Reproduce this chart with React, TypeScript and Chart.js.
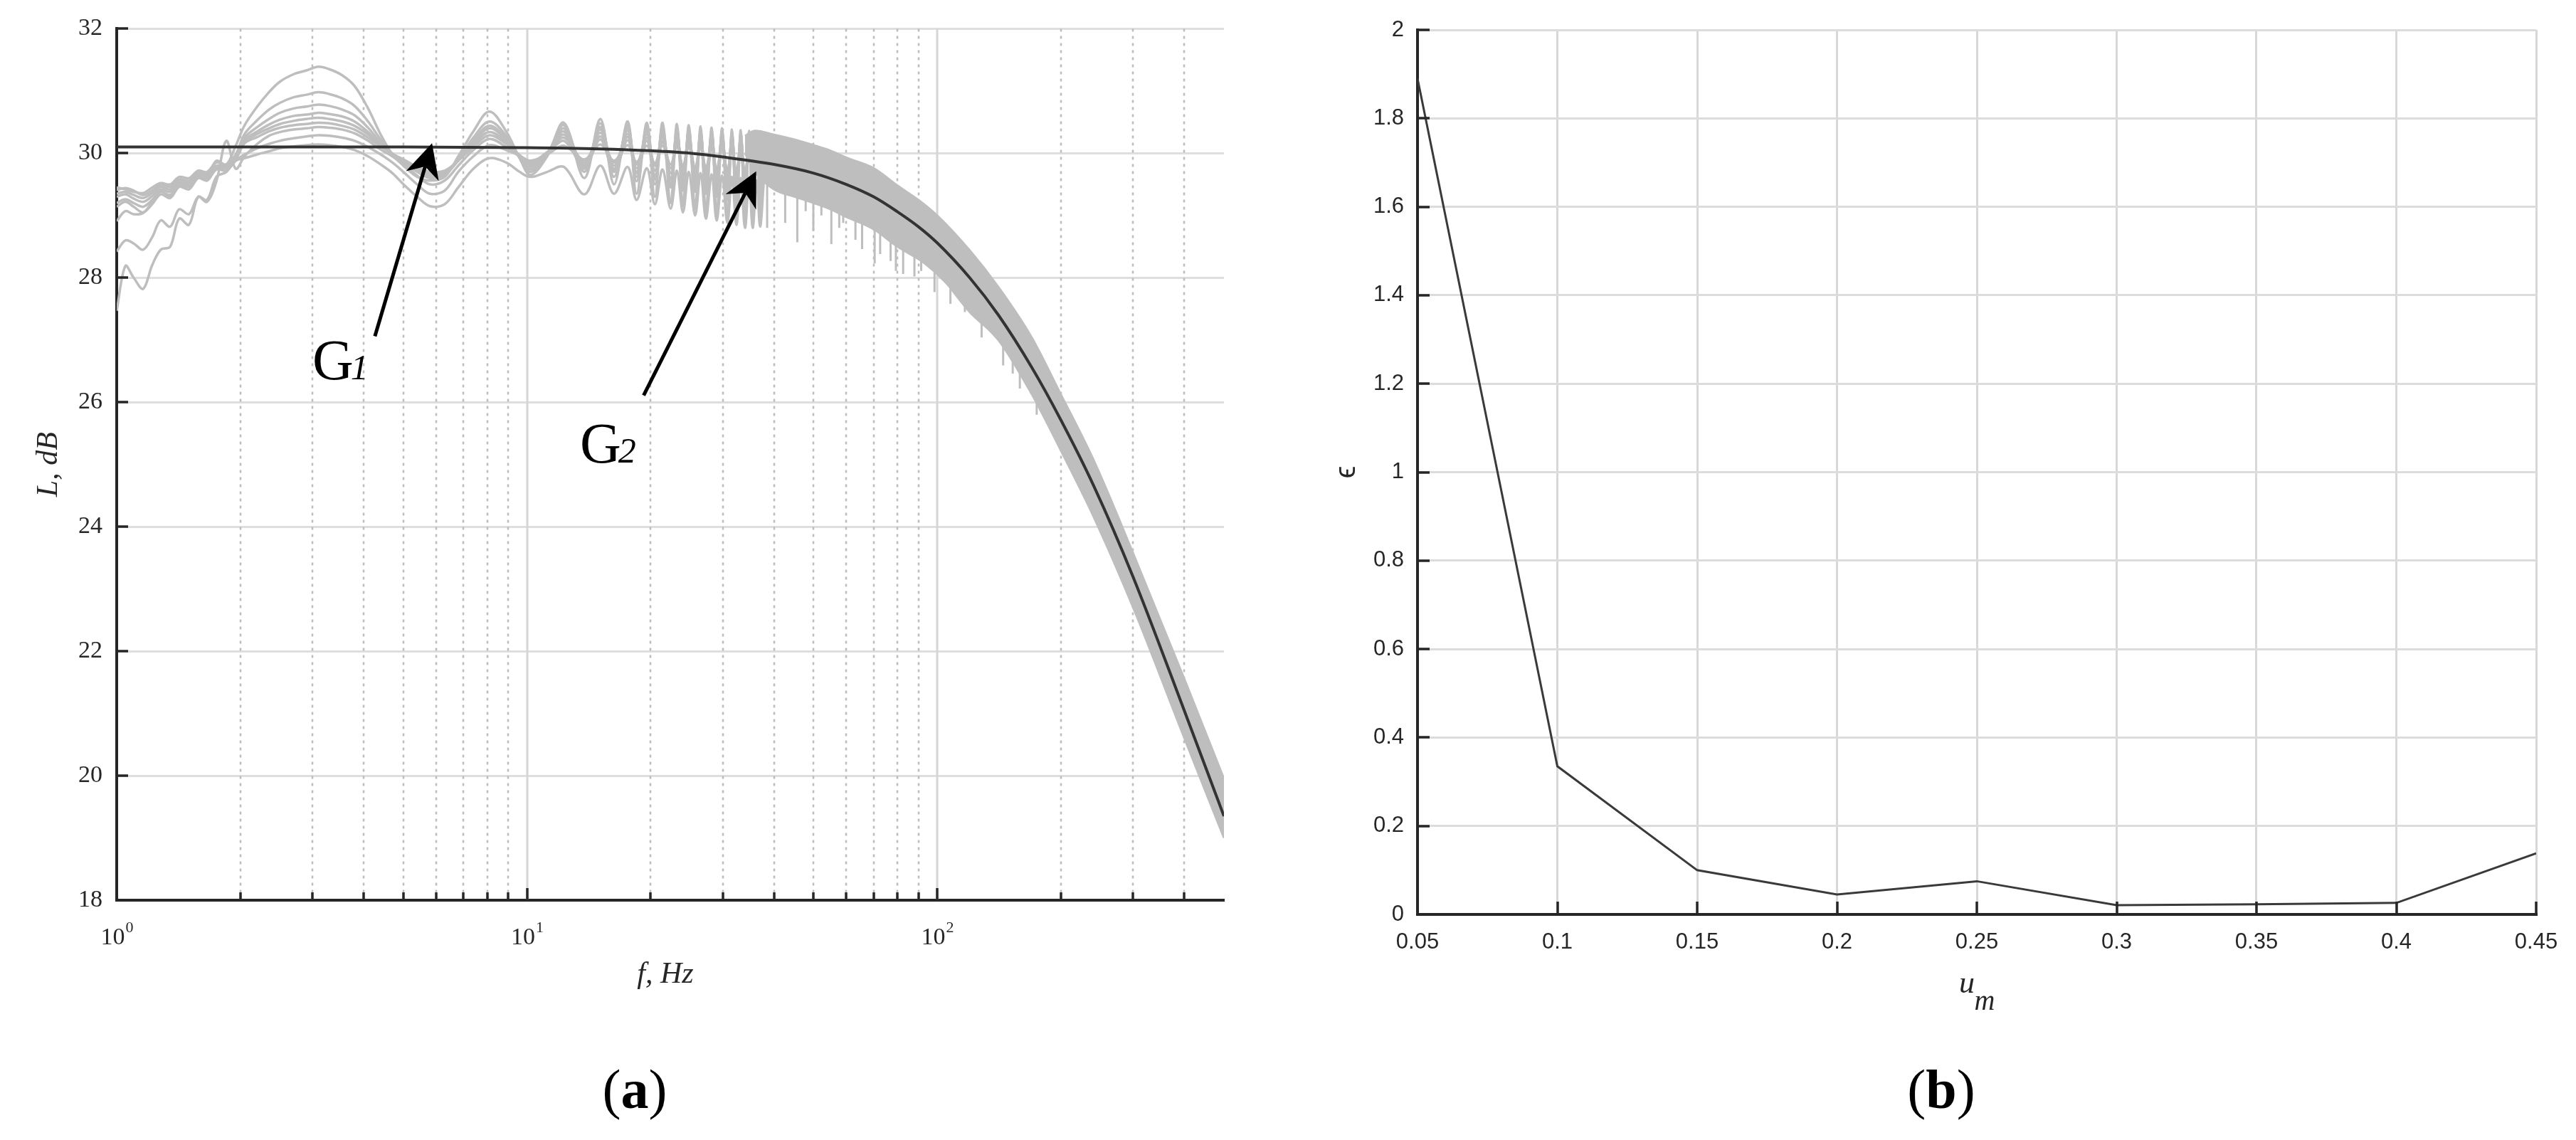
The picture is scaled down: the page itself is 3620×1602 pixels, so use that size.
import React, { useEffect, useRef } from "react";
import { Chart, registerables } from "chart.js";

Chart.register(...registerables);

// ---------------- Panel (a): L, dB vs f, Hz ----------------
const F_LOW = [
  1.0, 1.05, 1.1, 1.16, 1.22, 1.28, 1.35, 1.42, 1.5, 1.58,
  1.66, 1.75, 1.85, 1.95, 2.05, 2.2, 2.35, 2.5, 2.7, 2.9,
  3.1, 3.3, 3.55, 3.8, 4.1, 4.4, 4.7, 5.0, 5.4, 5.8,
  6.3, 6.8, 7.4, 8.1, 8.9, 9.6, 10.2, 11.2, 12.3, 13.8,
  15.1, 16.3, 17.6, 18.5, 19.6, 20.5, 21.4, 22.4, 23.2, 24.0,
  24.8, 25.7, 26.5, 27.3, 28.2, 29.0, 29.9, 30.8, 31.6, 32.4,
  33.2, 34.0, 34.8, 35.5, 36.3, 37.0, 37.8,
];

const G1_C1 = [
  28.91, 29.07, 29.02, 29.04, 29.22, 29.4, 29.3, 29.55, 29.47, 29.72,
  29.64, 29.88, 29.82, 30.12, 30.45, 30.75, 30.98, 31.15, 31.27, 31.33,
  31.39, 31.35, 31.25, 31.08, 30.72, 30.3, 29.98, 29.8, 29.62, 29.56,
  29.62, 29.95, 30.35, 30.67, 30.35, 29.92, 29.65, 29.95, 30.49, 29.6,
  30.55, 29.5, 30.51, 29.35, 30.49, 29.3, 30.49, 29.2, 30.47, 29.15,
  30.45, 29.1, 30.43, 29.05, 30.41, 29.0, 30.4, 28.95, 30.38, 28.9,
  30.37, 28.85, 30.36, 28.85, 30.35, 28.9, 30.34,
];
const G1_C2 = [
  29.45, 29.42, 29.38, 29.36, 29.45, 29.52, 29.5, 29.62, 29.6, 29.72,
  29.7, 29.85, 29.82, 29.98, 30.31, 30.53, 30.7, 30.81, 30.9, 30.94,
  30.98, 30.95, 30.88, 30.76, 30.51, 30.22, 29.99, 29.85, 29.7, 29.6,
  29.65, 29.9, 30.25, 30.51, 30.28, 29.92, 29.7, 29.98, 30.45, 29.7,
  30.48, 29.62, 30.45, 29.55, 30.43, 29.5, 30.42, 29.45, 30.4, 29.4,
  30.38, 29.38, 30.36, 29.35, 30.35, 29.3, 30.34, 29.25, 30.33, 29.2,
  30.32, 29.2, 30.31, 29.15, 30.3, 29.15, 30.3,
];
const G1_C3 = [
  29.41, 29.44, 29.4, 29.33, 29.4, 29.5, 29.46, 29.58, 29.56, 29.68,
  29.67, 29.8, 29.8, 29.95, 30.25, 30.42, 30.55, 30.65, 30.72, 30.75,
  30.78, 30.76, 30.7, 30.61, 30.41, 30.17, 29.99, 29.86, 29.72, 29.62,
  29.66, 29.88, 30.2, 30.44, 30.24, 29.93, 29.74, 29.98, 30.4, 29.75,
  30.42, 29.7, 30.4, 29.62, 30.38, 29.58, 30.37, 29.52, 30.36, 29.5,
  30.34, 29.46, 30.33, 29.44, 30.32, 29.4, 30.31, 29.38, 30.3, 29.35,
  30.29, 29.32, 30.28, 29.3, 30.27, 29.3, 30.26,
];
const G1_C4 = [
  29.35, 29.38, 29.33, 29.28, 29.36, 29.46, 29.42, 29.55, 29.53, 29.66,
  29.65, 29.78, 29.79, 29.93, 30.21, 30.35, 30.46, 30.54, 30.6, 30.62,
  30.65, 30.63, 30.59, 30.51, 30.34, 30.14, 29.99, 29.87, 29.74, 29.65,
  29.68, 29.88, 30.17, 30.4, 30.22, 29.95, 29.78, 30.0, 30.35, 29.8,
  30.38, 29.75, 30.36, 29.7, 30.34, 29.65, 30.33, 29.6, 30.32, 29.58,
  30.3, 29.55, 30.29, 29.52, 30.28, 29.5, 30.27, 29.47, 30.26, 29.45,
  30.25, 29.43, 30.24, 29.42, 30.23, 29.4, 30.22,
];
const G1_C5 = [
  29.3, 29.34, 29.27, 29.22, 29.31, 29.42, 29.38, 29.52, 29.5, 29.64,
  29.63, 29.77, 29.78, 29.92, 30.18, 30.31, 30.4, 30.47, 30.52, 30.55,
  30.57, 30.55, 30.51, 30.44, 30.3, 30.13, 29.99, 29.88, 29.76, 29.68,
  29.7, 29.88, 30.14, 30.34, 30.18, 29.96, 29.82, 30.0, 30.3, 29.84,
  30.33, 29.8, 30.31, 29.76, 30.3, 29.72, 30.29, 29.68, 30.28, 29.66,
  30.27, 29.63, 30.26, 29.6, 30.25, 29.58, 30.24, 29.56, 30.23, 29.54,
  30.22, 29.52, 30.21, 29.5, 30.2, 29.5, 30.19,
];
const G1_C6 = [
  29.2, 29.26, 29.2, 29.14, 29.25, 29.38, 29.33, 29.48, 29.46, 29.61,
  29.6, 29.75, 29.76, 29.9, 30.16, 30.26, 30.35, 30.41, 30.45, 30.47,
  30.49, 30.48, 30.44, 30.38, 30.25, 30.11, 29.99, 29.9, 29.78, 29.7,
  29.72, 29.88, 30.1, 30.29, 30.15, 29.97, 29.85, 30.02, 30.25, 29.88,
  30.27, 29.85, 30.26, 29.82, 30.25, 29.8, 30.24, 29.76, 30.23, 29.74,
  30.22, 29.72, 30.21, 29.7, 30.2, 29.68, 30.19, 29.66, 30.18, 29.64,
  30.17, 29.62, 30.16, 29.6, 30.15, 29.6, 30.14,
];
const G1_C7 = [
  28.42, 28.6, 28.55, 28.45, 28.65, 28.92, 28.82, 29.1, 29.02, 29.3,
  29.22, 29.55, 30.2, 29.75, 29.95, 30.15, 30.28, 30.34, 30.38, 30.4,
  30.42, 30.41, 30.38, 30.32, 30.2, 30.06, 29.95, 29.82, 29.64, 29.5,
  29.56, 29.8, 30.05, 30.23, 30.1, 29.95, 29.8, 29.98, 30.2, 29.78,
  30.22, 29.72, 30.21, 29.68, 30.2, 29.62, 30.19, 29.58, 30.18, 29.55,
  30.17, 29.5, 30.16, 29.48, 30.15, 29.45, 30.14, 29.42, 30.13, 29.4,
  30.12, 29.38, 30.11, 29.36, 30.1, 29.35, 30.09,
];
const G1_C8 = [
  29.14, 29.22, 29.14, 29.05, 29.18, 29.34, 29.28, 29.46, 29.42, 29.6,
  29.56, 29.74, 29.72, 29.88, 29.98, 30.08, 30.15, 30.2, 30.24, 30.27,
  30.29, 30.28, 30.25, 30.2, 30.1, 29.98, 29.85, 29.7, 29.5, 29.35,
  29.4, 29.7, 29.95, 30.13, 30.05, 29.96, 29.88, 29.98, 30.12, 29.9,
  30.14, 29.88, 30.13, 29.86, 30.12, 29.84, 30.12, 29.82, 30.11, 29.8,
  30.1, 29.78, 30.1, 29.76, 30.09, 29.74, 30.08, 29.72, 30.07, 29.7,
  30.06, 29.68, 30.05, 29.66, 30.04, 29.65, 30.03,
];
const G1_C9 = [
  27.47, 28.19, 28.0, 27.82, 28.2, 28.45, 28.5, 28.95, 28.85, 29.3,
  29.25, 29.62, 29.7, 29.88, 29.92, 29.98, 30.03, 30.08, 30.11, 30.13,
  30.14, 30.13, 30.1, 30.05, 29.95, 29.82, 29.68, 29.5, 29.3, 29.15,
  29.18, 29.45, 29.75, 29.92, 29.85, 29.7, 29.62, 29.7, 29.78, 29.34,
  29.8, 29.35, 29.78, 29.25, 29.76, 29.18, 29.74, 29.11, 29.72, 29.05,
  29.7, 29.0, 29.68, 28.95, 29.66, 28.92, 29.64, 28.88, 29.62, 28.85,
  29.6, 28.8, 29.58, 28.8, 29.56, 28.82, 29.55,
];
const G1_CURVES = [G1_C1, G1_C2, G1_C3, G1_C4, G1_C5, G1_C6, G1_C7, G1_C8, G1_C9];

// dense oscillating region, read as an envelope band
const F_BAND = [34, 36, 40, 45, 50, 55, 60, 70, 80, 90, 100, 120, 141, 170, 200, 241, 300, 400, 500];
const BAND_UP = [30.28, 30.36, 30.3, 30.22, 30.13, 30.04, 29.93, 29.76, 29.48, 29.25, 29.0, 28.44, 27.85, 27.04, 26.13, 25.06, 23.58, 21.56, 19.95];
const BAND_LO = [30.0, 29.7, 29.42, 29.3, 29.2, 29.1, 28.98, 28.78, 28.5, 28.3, 28.08, 27.45, 27.0, 26.13, 25.23, 24.15, 22.71, 20.61, 19.0];

// downward spikes below the band
const SPIKE_F = [36.8, 38.5, 42.6, 45.6, 47.8, 49.9, 52.2, 55.2, 57.7, 59.0, 63.2, 65.6, 70.4, 72.6, 77.0, 79.3, 82.6, 88.0, 91.4, 98.5, 107.7, 116.8, 128.3, 144.8, 152.8, 159.0, 174.8];
const SPIKE_TOP = [29.65, 29.55, 29.42, 29.33, 29.28, 29.22, 29.17, 29.1, 29.05, 29.0, 28.92, 28.88, 28.78, 28.72, 28.6, 28.55, 28.45, 28.35, 28.28, 28.1, 27.85, 27.6, 27.3, 26.92, 26.7, 26.55, 26.1];
const SPIKE_BOT = [29.26, 28.8, 28.88, 28.57, 29.07, 28.75, 29.0, 28.54, 28.8, 28.88, 28.61, 28.46, 28.23, 28.38, 28.27, 28.11, 28.06, 28.02, 28.11, 27.77, 27.58, 27.45, 27.04, 26.59, 26.46, 26.22, 25.8];

// G2 (model) curve
const F_G2 = [1, 5, 10, 15, 20, 25, 30, 40, 50, 60, 70, 80, 90, 100, 120, 141, 170, 200, 241, 300, 400, 500];
const L_G2 = [30.1, 30.1, 30.09, 30.07, 30.04, 30.0, 29.94, 29.82, 29.68, 29.5, 29.3, 29.06, 28.82, 28.56, 28.0, 27.4, 26.56, 25.72, 24.65, 23.2, 21.05, 19.35];

const X_MAJOR = [1, 10, 100];
const X_MAJOR_EXP = ["0", "1", "2"];
const X_MINOR = [2, 3, 4, 5, 6, 7, 8, 9, 20, 30, 40, 50, 60, 70, 80, 90, 200, 300, 400];

// annotation anchors (data coordinates)
const G1_ARROW = { from: [4.26, 27.06], to: [5.87, 30.16] };
const G2_ARROW = { from: [19.25, 26.11], to: [36.2, 29.71] };
const G1_LABEL_AT = [3.0, 26.37];
const G2_LABEL_AT = [13.47, 25.03];

// ---------------- Panel (b): epsilon vs u_m ----------------
const UM = [0.05, 0.1, 0.15, 0.2, 0.25, 0.3, 0.35, 0.4, 0.45];
const EPS = [1.89, 0.335, 0.1, 0.045, 0.075, 0.021, 0.023, 0.026, 0.138];

// ---------------- styles ----------------
const GREY = "#bebebe";
const DARK = "#333333";
const AXIS = "#262626";
const SERIF = '"Liberation Serif", "Times New Roman", serif';
const SANS = '"Liberation Sans", Arial, sans-serif';

const pts = (xs: number[], ys: (number | null)[]) => xs.map((x, i) => ({ x, y: ys[i] }));

function spikePoints() {
  const out: any[] = [];
  SPIKE_F.forEach((f, i) => {
    out.push({ x: f, y: SPIKE_TOP[i] });
    out.push({ x: f, y: SPIKE_BOT[i] });
    out.push({ x: f, y: SPIKE_TOP[i] });
  });
  return out;
}

function drawArrow(ctx: CanvasRenderingContext2D, x0: number, y0: number, x1: number, y1: number) {
  const dx = x1 - x0, dy = y1 - y0;
  const len = Math.hypot(dx, dy);
  const ux = dx / len, uy = dy / len;
  const nx = -uy, ny = ux;
  const L = 48, W = 24, N = 34;
  ctx.save();
  ctx.strokeStyle = "#000";
  ctx.fillStyle = "#000";
  ctx.lineWidth = 5;
  ctx.beginPath();
  ctx.moveTo(x0, y0);
  ctx.lineTo(x1 - ux * N, y1 - uy * N);
  ctx.stroke();
  ctx.beginPath();
  ctx.moveTo(x1, y1);
  ctx.lineTo(x1 - ux * L + nx * W, y1 - uy * L + ny * W);
  ctx.lineTo(x1 - ux * N, y1 - uy * N);
  ctx.lineTo(x1 - ux * L - nx * W, y1 - uy * L - ny * W);
  ctx.closePath();
  ctx.fill();
  ctx.restore();
}

function drawG(ctx: CanvasRenderingContext2D, px: number, py: number, sub: string) {
  ctx.save();
  ctx.fillStyle = "#000";
  ctx.textAlign = "left";
  ctx.textBaseline = "alphabetic";
  ctx.font = `80px ${SERIF}`;
  ctx.fillText("G", px, py);
  const w = ctx.measureText("G").width;
  ctx.font = `italic 50px ${SERIF}`;
  ctx.fillText(sub, px + w - 4, py);
  ctx.restore();
}

function drawPanelLabel(ctx: CanvasRenderingContext2D, cx: number, cy: number, letter: string) {
  ctx.save();
  ctx.fillStyle = "#000";
  ctx.textBaseline = "middle";
  ctx.textAlign = "left";
  const reg = `78px ${SERIF}`;
  const bold = `bold 78px ${SERIF}`;
  ctx.font = reg;
  const wp = ctx.measureText("(").width;
  ctx.font = bold;
  const wl = ctx.measureText(letter).width;
  const total = wp * 2 + wl;
  const x0 = cx - total / 2;
  ctx.font = reg;
  ctx.fillText("(", x0, cy);
  ctx.font = bold;
  ctx.fillText(letter, x0 + wp, cy);
  ctx.font = reg;
  ctx.fillText(")", x0 + wp + wl, cy);
  ctx.restore();
}

const panelAPlugin = {
  id: "panelA",
  beforeDatasetsDraw(chart: any) {
    const { ctx, chartArea: a } = chart;
    const x = chart.scales.x;
    ctx.save();
    ctx.lineWidth = 3;
    ctx.strokeStyle = "#d6d6d6";
    X_MAJOR.forEach((v) => {
      if (v <= x.min) return;
      const px = Math.round(x.getPixelForValue(v));
      ctx.beginPath();
      ctx.moveTo(px, a.top);
      ctx.lineTo(px, a.bottom);
      ctx.stroke();
    });
    ctx.setLineDash([4, 6]);
    ctx.lineWidth = 2.5;
    ctx.strokeStyle = "#bdbdbd";
    X_MINOR.forEach((v) => {
      const px = Math.round(x.getPixelForValue(v));
      ctx.beginPath();
      ctx.moveTo(px, a.top);
      ctx.lineTo(px, a.bottom);
      ctx.stroke();
    });
    ctx.restore();
  },
  afterDraw(chart: any) {
    const { ctx, chartArea: a } = chart;
    const x = chart.scales.x, y = chart.scales.y;
    ctx.save();
    // inward ticks
    ctx.strokeStyle = AXIS;
    ctx.lineWidth = 3.5;
    y.ticks.forEach((t: any) => {
      const py = Math.round(y.getPixelForValue(t.value));
      ctx.beginPath();
      ctx.moveTo(a.left, py);
      ctx.lineTo(a.left + 16, py);
      ctx.stroke();
    });
    X_MAJOR.forEach((v) => {
      const px = Math.round(x.getPixelForValue(v));
      ctx.beginPath();
      ctx.moveTo(px, a.bottom);
      ctx.lineTo(px, a.bottom - 17);
      ctx.stroke();
    });
    X_MINOR.forEach((v) => {
      const px = Math.round(x.getPixelForValue(v));
      ctx.beginPath();
      ctx.moveTo(px, a.bottom);
      ctx.lineTo(px, a.bottom - 11);
      ctx.stroke();
    });
    // x tick labels 10^n
    ctx.fillStyle = AXIS;
    ctx.textBaseline = "alphabetic";
    ctx.textAlign = "left";
    X_MAJOR.forEach((v, i) => {
      const px = x.getPixelForValue(v);
      ctx.font = `34px ${SERIF}`;
      const w1 = ctx.measureText("10").width;
      ctx.font = `22px ${SERIF}`;
      const w2 = ctx.measureText(X_MAJOR_EXP[i]).width;
      const x0 = px - (w1 + w2) / 2;
      ctx.font = `34px ${SERIF}`;
      ctx.fillText("10", x0, a.bottom + 62);
      ctx.font = `22px ${SERIF}`;
      ctx.fillText(X_MAJOR_EXP[i], x0 + w1 + 1, a.bottom + 45);
    });
    // axis titles
    ctx.font = `italic 42px ${SERIF}`;
    ctx.textAlign = "center";
    ctx.textBaseline = "middle";
    ctx.fillText("f, Hz", (a.left + a.right) / 2 - 7, 1370);
    ctx.save();
    ctx.translate(69, (a.top + a.bottom) / 2);
    ctx.rotate(-Math.PI / 2);
    ctx.fillText("L, dB", 0, 0);
    ctx.restore();
    // annotations
    drawArrow(ctx, x.getPixelForValue(G1_ARROW.from[0]), y.getPixelForValue(G1_ARROW.from[1]),
      x.getPixelForValue(G1_ARROW.to[0]), y.getPixelForValue(G1_ARROW.to[1]));
    drawArrow(ctx, x.getPixelForValue(G2_ARROW.from[0]), y.getPixelForValue(G2_ARROW.from[1]),
      x.getPixelForValue(G2_ARROW.to[0]), y.getPixelForValue(G2_ARROW.to[1]));
    drawG(ctx, x.getPixelForValue(G1_LABEL_AT[0]), y.getPixelForValue(G1_LABEL_AT[1]), "1");
    drawG(ctx, x.getPixelForValue(G2_LABEL_AT[0]), y.getPixelForValue(G2_LABEL_AT[1]), "2");
    drawPanelLabel(ctx, 892, 1537, "a");
    ctx.restore();
  },
};

const panelBPlugin = {
  id: "panelB",
  afterDraw(chart: any) {
    const { ctx, chartArea: a } = chart;
    const x = chart.scales.x, y = chart.scales.y;
    ctx.save();
    ctx.strokeStyle = AXIS;
    ctx.lineWidth = 3.5;
    y.ticks.forEach((t: any) => {
      const py = Math.round(y.getPixelForValue(t.value));
      ctx.beginPath();
      ctx.moveTo(a.left, py);
      ctx.lineTo(a.left + 17, py);
      ctx.stroke();
    });
    x.ticks.forEach((t: any) => {
      const px = Math.round(x.getPixelForValue(t.value));
      ctx.beginPath();
      ctx.moveTo(px, a.bottom);
      ctx.lineTo(px, a.bottom - 18);
      ctx.stroke();
    });
    ctx.fillStyle = AXIS;
    ctx.textAlign = "center";
    ctx.textBaseline = "middle";
    ctx.save();
    ctx.translate(83, (a.top + a.bottom) / 2);
    ctx.rotate(-Math.PI / 2);
    ctx.font = `40px ${SANS}`;
    ctx.fillText("\u03F5", 0, 0);
    ctx.restore();
    ctx.font = `italic 44px ${SERIF}`;
    ctx.fillText("u", 954, 1383);
    ctx.font = `italic 40px ${SERIF}`;
    ctx.fillText("m", 979, 1408);
    drawPanelLabel(ctx, 918, 1537, "b");
    ctx.restore();
  },
};

const fmt = (v: any) => String(+Number(v).toFixed(2));

export default function App() {
  const aRef = useRef<HTMLCanvasElement>(null);
  const bRef = useRef<HTMLCanvasElement>(null);

  useEffect(() => {
    document.body.style.margin = "0";
    const greyDatasets = G1_CURVES.map((c, i) => ({
      label: `G1-${i + 1}`,
      data: pts(F_LOW, c),
      borderColor: GREY,
      borderWidth: 3.5,
      pointRadius: 0,
      tension: 0.35,
      fill: false,
      order: 2,
    }));
    const chartA = new Chart(aRef.current as HTMLCanvasElement, {
      type: "line",
      data: {
        datasets: [
          {
            label: "G2",
            data: pts(F_G2, L_G2),
            borderColor: DARK,
            borderWidth: 4,
            pointRadius: 0,
            cubicInterpolationMode: "monotone",
            fill: false,
            order: 0,
          },
          ...greyDatasets,
          {
            label: "band-up",
            data: pts(F_BAND, BAND_UP),
            borderColor: GREY,
            borderWidth: 3,
            pointRadius: 0,
            cubicInterpolationMode: "monotone",
            fill: false,
            order: 3,
          },
          {
            label: "band-lo",
            data: pts(F_BAND, BAND_LO),
            borderColor: GREY,
            backgroundColor: GREY,
            borderWidth: 3,
            pointRadius: 0,
            cubicInterpolationMode: "monotone",
            fill: "-1",
            order: 3,
          },
          {
            label: "spikes",
            data: spikePoints(),
            borderColor: GREY,
            borderWidth: 3,
            pointRadius: 0,
            tension: 0,
            fill: false,
            order: 3,
          },
        ] as any,
      },
      options: {
        responsive: false,
        animation: false,
        devicePixelRatio: 1,
        layout: { padding: { left: 0, top: 40, right: 90, bottom: 137 } },
        plugins: { legend: { display: false }, tooltip: { enabled: false } },
        scales: {
          x: {
            type: "logarithmic",
            min: 1,
            max: 500,
            grid: { display: false },
            border: { display: true, color: AXIS, width: 4 },
            ticks: { display: false },
            afterFit: (s: any) => { s.height = 200; },
          },
          y: {
            type: "linear",
            min: 18,
            max: 32,
            ticks: { stepSize: 2, font: { family: SERIF, size: 34 }, color: AXIS, padding: 20 },
            grid: { color: "#dedede", lineWidth: 3, drawTicks: false },
            border: { display: true, color: AXIS, width: 4 },
            afterFit: (s: any) => { s.width = 164; },
          },
        },
      } as any,
      plugins: [panelAPlugin],
    });

    const chartB = new Chart(bRef.current as HTMLCanvasElement, {
      type: "line",
      data: {
        datasets: [
          {
            label: "epsilon",
            data: pts(UM, EPS),
            borderColor: "#3a3a3a",
            borderWidth: 3,
            pointRadius: 0,
            tension: 0,
            fill: false,
          },
        ],
      },
      options: {
        responsive: false,
        animation: false,
        devicePixelRatio: 1,
        layout: { padding: { left: 0, top: 42, right: 56, bottom: 117 } },
        plugins: { legend: { display: false }, tooltip: { enabled: false } },
        scales: {
          x: {
            type: "linear",
            min: 0.05,
            max: 0.45,
            ticks: { stepSize: 0.05, callback: fmt, font: { family: SANS, size: 31 }, color: AXIS, padding: 21, maxRotation: 0, autoSkip: false },
            grid: { color: "#d8d8d8", lineWidth: 3, drawTicks: false },
            border: { display: true, color: AXIS, width: 4 },
            afterFit: (s: any) => { s.height = 200; },
          },
          y: {
            type: "linear",
            min: 0,
            max: 2,
            ticks: { stepSize: 0.2, callback: fmt, font: { family: SANS, size: 31 }, color: AXIS, padding: 19 },
            grid: { color: "#dcdcdc", lineWidth: 3, drawTicks: false },
            border: { display: true, color: AXIS, width: 4 },
            afterFit: (s: any) => { s.width = 182; },
          },
        },
      } as any,
      plugins: [panelBPlugin],
    });

    return () => {
      chartA.destroy();
      chartB.destroy();
    };
  }, []);

  return (
    <div style={{ position: "fixed", left: 0, top: 0, width: 3620, height: 1602, background: "#fff", overflow: "hidden" }}>
      <canvas ref={aRef} width={1810} height={1602} style={{ position: "absolute", left: 0, top: 0, width: 1810, height: 1602 }} />
      <canvas ref={bRef} width={1810} height={1602} style={{ position: "absolute", left: 1810, top: 0, width: 1810, height: 1602 }} />
    </div>
  );
}
